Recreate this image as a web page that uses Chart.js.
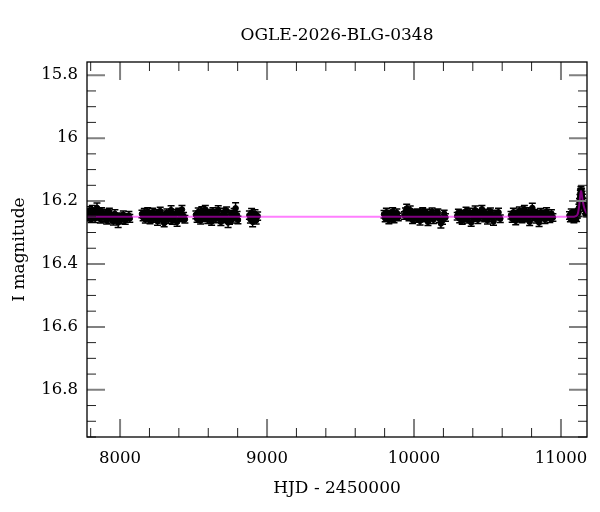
<!DOCTYPE html>
<html>
<head>
<meta charset="utf-8">
<title>OGLE-2026-BLG-0348</title>
<script src="https://cdn.jsdelivr.net/npm/chart.js@4.4.1/dist/chart.umd.min.js"></script>
<style>
  html, body { margin: 0; padding: 0; background: #fff; }
  #lc { display: block; }
</style>
</head>
<body>
<canvas id="lc" width="600" height="512"></canvas>
<script>
// OGLE photometry, one list per bulge season: [HJD - 2450000, I mag, error]
const season2017 = [
  [7779, 16.238, 0.012], [7786, 16.252, 0.011], [7791, 16.231, 0.013], [7798, 16.246, 0.012],
  [7804, 16.258, 0.010], [7811, 16.228, 0.014], [7817, 16.244, 0.012], [7823, 16.236, 0.011],
  [7830, 16.255, 0.013], [7836, 16.241, 0.012], [7843, 16.222, 0.016], [7850, 16.249, 0.011],
  [7858, 16.238, 0.012], [7866, 16.257, 0.013], [7874, 16.233, 0.012], [7883, 16.245, 0.011],
  [7891, 16.252, 0.014], [7900, 16.239, 0.012], [7909, 16.262, 0.011], [7918, 16.243, 0.013],
  [7927, 16.235, 0.012], [7936, 16.256, 0.014], [7946, 16.247, 0.011], [7955, 16.264, 0.012],
  [7965, 16.241, 0.013], [7976, 16.253, 0.012], [7987, 16.268, 0.016], [7998, 16.249, 0.011],
  [8010, 16.259, 0.013], [8022, 16.244, 0.012], [8035, 16.262, 0.012], [8048, 16.251, 0.011],
  [8060, 16.246, 0.013], [8066, 16.255, 0.012]
];
const season2018 = [
  [8149, 16.241, 0.012], [8157, 16.252, 0.011], [8165, 16.237, 0.013], [8172, 16.258, 0.012],
  [8180, 16.245, 0.011], [8188, 16.233, 0.012], [8196, 16.250, 0.013], [8204, 16.261, 0.011],
  [8212, 16.242, 0.012], [8221, 16.236, 0.013], [8229, 16.255, 0.012], [8238, 16.247, 0.011],
  [8246, 16.239, 0.012], [8255, 16.264, 0.013], [8264, 16.244, 0.011], [8273, 16.232, 0.012],
  [8282, 16.257, 0.013], [8291, 16.249, 0.012], [8300, 16.270, 0.012], [8309, 16.243, 0.011],
  [8318, 16.238, 0.013], [8328, 16.259, 0.012], [8337, 16.246, 0.011], [8347, 16.229, 0.014],
  [8357, 16.262, 0.012], [8367, 16.251, 0.011], [8377, 16.240, 0.013], [8388, 16.266, 0.014],
  [8399, 16.235, 0.012], [8410, 16.254, 0.011], [8421, 16.227, 0.013], [8432, 16.248, 0.012],
  [8441, 16.258, 0.012]
];
const season2019 = [
  [8516, 16.244, 0.012], [8524, 16.256, 0.011], [8532, 16.235, 0.013], [8540, 16.249, 0.012],
  [8548, 16.262, 0.011], [8556, 16.231, 0.013], [8564, 16.246, 0.012], [8572, 16.254, 0.011],
  [8580, 16.227, 0.013], [8589, 16.243, 0.012], [8597, 16.259, 0.012], [8606, 16.238, 0.011],
  [8614, 16.250, 0.013], [8623, 16.265, 0.012], [8632, 16.233, 0.012], [8641, 16.247, 0.011],
  [8650, 16.256, 0.013], [8659, 16.240, 0.012], [8668, 16.228, 0.013], [8677, 16.252, 0.011],
  [8686, 16.266, 0.012], [8696, 16.244, 0.012], [8705, 16.236, 0.013], [8715, 16.258, 0.011],
  [8725, 16.231, 0.012], [8735, 16.268, 0.016], [8745, 16.262, 0.012], [8755, 16.241, 0.011],
  [8766, 16.257, 0.013], [8776, 16.236, 0.012], [8786, 16.223, 0.018], [8796, 16.245, 0.012],
  [8802, 16.260, 0.012]
];
const season2020 = [
  [8880, 16.245, 0.013], [8887, 16.258, 0.012], [8895, 16.237, 0.013], [8902, 16.266, 0.016],
  [8910, 16.250, 0.012], [8918, 16.241, 0.013], [8926, 16.261, 0.012], [8936, 16.248, 0.013]
];
const season2022a = [
  [9796, 16.242, 0.012], [9804, 16.255, 0.011], [9812, 16.236, 0.013], [9820, 16.249, 0.012],
  [9829, 16.260, 0.012], [9838, 16.240, 0.011], [9846, 16.252, 0.013], [9855, 16.233, 0.012],
  [9864, 16.257, 0.012], [9873, 16.246, 0.011], [9883, 16.238, 0.013], [9893, 16.251, 0.012]
];
const season2023 = [
  [9934, 16.246, 0.012], [9942, 16.233, 0.011], [9950, 16.224, 0.014], [9958, 16.242, 0.012],
  [9966, 16.252, 0.011], [9974, 16.229, 0.013], [9982, 16.248, 0.012], [9990, 16.260, 0.011],
  [9998, 16.238, 0.012], [10007, 16.245, 0.013], [10015, 16.255, 0.012], [10024, 16.236, 0.011],
  [10032, 16.250, 0.012], [10041, 16.263, 0.013], [10050, 16.241, 0.012], [10059, 16.232, 0.011],
  [10068, 16.254, 0.012], [10077, 16.247, 0.013], [10086, 16.238, 0.012], [10095, 16.266, 0.012],
  [10104, 16.244, 0.011], [10113, 16.250, 0.013], [10123, 16.234, 0.012], [10132, 16.259, 0.012],
  [10142, 16.248, 0.011], [10152, 16.243, 0.013], [10162, 16.237, 0.012], [10172, 16.256, 0.012],
  [10183, 16.271, 0.015], [10194, 16.262, 0.012], [10205, 16.240, 0.011], [10214, 16.252, 0.012]
];
const season2024 = [
  [10294, 16.248, 0.012], [10302, 16.237, 0.011], [10311, 16.256, 0.013], [10319, 16.244, 0.012],
  [10328, 16.262, 0.012], [10336, 16.240, 0.011], [10345, 16.251, 0.013], [10354, 16.232, 0.012],
  [10362, 16.258, 0.012], [10371, 16.245, 0.011], [10380, 16.236, 0.013], [10389, 16.268, 0.012],
  [10398, 16.243, 0.012], [10407, 16.253, 0.011], [10416, 16.229, 0.013], [10425, 16.247, 0.012],
  [10434, 16.259, 0.012], [10443, 16.238, 0.011], [10452, 16.250, 0.013], [10462, 16.226, 0.012],
  [10471, 16.244, 0.012], [10481, 16.255, 0.011], [10490, 16.239, 0.013], [10500, 16.261, 0.012],
  [10510, 16.247, 0.012], [10520, 16.233, 0.011], [10530, 16.252, 0.013], [10541, 16.265, 0.012],
  [10552, 16.241, 0.012], [10563, 16.249, 0.011], [10575, 16.236, 0.013], [10587, 16.256, 0.012]
];
const season2025 = [
  [10660, 16.245, 0.012], [10668, 16.256, 0.011], [10676, 16.236, 0.013], [10684, 16.249, 0.012],
  [10692, 16.263, 0.012], [10701, 16.240, 0.011], [10709, 16.252, 0.013], [10717, 16.231, 0.012],
  [10726, 16.247, 0.012], [10734, 16.258, 0.011], [10743, 16.238, 0.013], [10751, 16.226, 0.012],
  [10760, 16.254, 0.012], [10769, 16.243, 0.011], [10778, 16.234, 0.013], [10787, 16.266, 0.012],
  [10796, 16.245, 0.012], [10805, 16.222, 0.015], [10814, 16.251, 0.012], [10823, 16.238, 0.011],
  [10832, 16.257, 0.013], [10842, 16.244, 0.012], [10851, 16.268, 0.013], [10861, 16.236, 0.012],
  [10871, 16.250, 0.011], [10881, 16.242, 0.013], [10891, 16.259, 0.012], [10902, 16.233, 0.012],
  [10913, 16.248, 0.011], [10924, 16.255, 0.013], [10935, 16.240, 0.012], [10945, 16.252, 0.012]
];
const season2026 = [
  [11058, 16.246, 0.012], [11064, 16.255, 0.011], [11070, 16.238, 0.013], [11076, 16.251, 0.012],
  [11082, 16.244, 0.012], [11088, 16.258, 0.011], [11094, 16.240, 0.013], [11100, 16.249, 0.012],
  [11106, 16.253, 0.012], [11112, 16.243, 0.011], [11118, 16.236, 0.012], [11122, 16.222, 0.012],
  [11126, 16.205, 0.012], [11129, 16.190, 0.011], [11132, 16.178, 0.012], [11134, 16.172, 0.011],
  [11136, 16.166, 0.012], [11138, 16.170, 0.011], [11140, 16.174, 0.012], [11143, 16.180, 0.011],
  [11146, 16.190, 0.012], [11150, 16.204, 0.012], [11154, 16.213, 0.011], [11159, 16.220, 0.012],
  [11164, 16.228, 0.012], [11170, 16.234, 0.011], [11175, 16.238, 0.012]
];

// fitted model curve
const modelHjd = [7775, 11080, 11095, 11105, 11112, 11118, 11123, 11127, 11130, 11133,
                  11136, 11139, 11142, 11146, 11151, 11157, 11163, 11170, 11177];
const modelMag = [16.25, 16.25, 16.249, 16.247, 16.243, 16.233, 16.218, 16.2, 16.186, 16.174,
                  16.168, 16.171, 16.181, 16.194, 16.207, 16.219, 16.228, 16.235, 16.24];

const xTickValues = [8000, 9000, 10000, 11000];
const xTickLabels = ['8000', '9000', '10000', '11000'];
const yTickValues = [15.8, 16, 16.2, 16.4, 16.6, 16.8];
const yTickLabels = ['15.8', '16', '16.2', '16.4', '16.6', '16.8'];

const points = [season2017, season2018, season2019, season2020, season2022a,
                season2023, season2024, season2025, season2026].flat();

// vertical error bars with small caps, drawn right after the photometry
const errorBars = {
  id: 'errorBars',
  afterDatasetDraw(chart, args) {
    const ds = chart.data.datasets[args.index];
    if (!ds.errors) return;
    const { ctx, chartArea: a, scales: { x, y } } = chart;
    ctx.save();
    ctx.beginPath();
    ctx.rect(a.left, a.top, a.width, a.height);
    ctx.clip();
    ctx.strokeStyle = '#000';
    ctx.lineWidth = 1.5;
    ctx.beginPath();
    ds.data.forEach((p, i) => {
      const px = x.getPixelForValue(p.x);
      const y1 = y.getPixelForValue(p.y - ds.errors[i]);
      const y2 = y.getPixelForValue(p.y + ds.errors[i]);
      ctx.moveTo(px, y1); ctx.lineTo(px, y2);
      ctx.moveTo(px - 3.5, y1); ctx.lineTo(px + 3.5, y1);
      ctx.moveTo(px - 3.5, y2); ctx.lineTo(px + 3.5, y2);
    });
    ctx.stroke();
    ctx.restore();
  }
};

// box frame with inward ticks on all four sides
const frameTicks = {
  id: 'frameTicks',
  afterDraw(chart) {
    const { ctx, chartArea: a, scales: { x, y } } = chart;
    const majorLen = 18, minorLen = 9;
    ctx.save();

    const drawX = (v, len) => {
      const px = x.getPixelForValue(v);
      ctx.moveTo(px, a.bottom); ctx.lineTo(px, a.bottom - len);
      ctx.moveTo(px, a.top); ctx.lineTo(px, a.top + len);
    };
    const drawY = (v, len) => {
      const py = y.getPixelForValue(v);
      ctx.moveTo(a.left, py); ctx.lineTo(a.left + len, py);
      ctx.moveTo(a.right, py); ctx.lineTo(a.right - len, py);
    };

    ctx.strokeStyle = '#222';
    ctx.lineWidth = 1;
    ctx.beginPath();
    for (let v = 7800; v <= x.max; v += 200) if (v % 1000) drawX(v, minorLen);
    for (let k = 316; k * 0.05 <= y.max; k++) if (k % 4) drawY(k * 0.05, minorLen);
    ctx.stroke();

    ctx.strokeStyle = '#808080';
    ctx.lineWidth = 2;
    ctx.beginPath();
    xTickValues.forEach(v => drawX(v, majorLen));
    yTickValues.forEach(v => drawY(v, majorLen));
    ctx.stroke();

    ctx.strokeStyle = '#000';
    ctx.lineWidth = 1.3;
    ctx.strokeRect(a.left, a.top, a.width, a.height);
    ctx.restore();
  }
};

Chart.defaults.font.family = "'DejaVu Serif', serif";
Chart.defaults.font.size = 16.5;
Chart.defaults.color = '#000';

new Chart(document.getElementById('lc'), {
  type: 'scatter',
  data: {
    datasets: [{
      label: 'OGLE I',
      data: points.map(r => ({ x: r[0], y: r[1] })),
      errors: points.map(r => r[2]),
      pointRadius: 2.8,
      pointBackgroundColor: '#000',
      pointBorderColor: '#000',
      pointBorderWidth: 1,
      order: 1
    }, {
      label: 'model',
      data: modelHjd.map((t, i) => ({ x: t, y: modelMag[i] })),
      showLine: true,
      borderColor: 'rgba(255, 0, 255, 0.5)',
      borderWidth: 2,
      pointRadius: 0,
      cubicInterpolationMode: 'monotone',
      order: 0
    }]
  },
  options: {
    responsive: false,
    animation: false,
    layout: { padding: { left: 0, right: 13, top: 0, bottom: 0 } },
    plugins: {
      legend: { display: false },
      tooltip: { enabled: false },
      title: {
        display: true,
        text: 'OGLE-2026-BLG-0348',
        fullSize: false,
        font: { size: 17, weight: 'normal' },
        padding: { top: 25, bottom: 16.6 }
      }
    },
    scales: {
      x: {
        type: 'linear',
        min: 7775,
        max: 11177,
        grid: { display: false, drawTicks: false },
        border: { display: false },
        afterBuildTicks: s => { s.ticks = xTickValues.map(v => ({ value: v })); },
        afterFit: s => { s.height = 75; },
        ticks: { padding: 12, callback: (v, i) => xTickLabels[i] },
        title: { display: true, text: 'HJD - 2450000', font: { size: 17 }, padding: { top: 0, bottom: 12.8 } }
      },
      y: {
        type: 'linear',
        reverse: true,
        min: 15.758,
        max: 16.95,
        grid: { display: false, drawTicks: false },
        border: { display: false },
        afterBuildTicks: s => { s.ticks = yTickValues.map(v => ({ value: v })); },
        afterFit: s => { s.width = 87; },
        ticks: { padding: 9, callback: (v, i) => yTickLabels[i] },
        title: { display: true, text: 'I magnitude', font: { size: 17 }, padding: { top: 9.8, bottom: 0 } }
      }
    }
  },
  plugins: [errorBars, frameTicks]
});
</script>
</body>
</html>
